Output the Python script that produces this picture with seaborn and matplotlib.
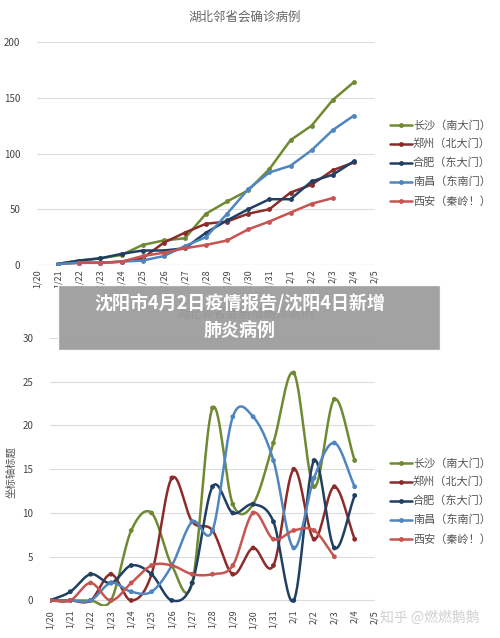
import numpy as np
import pandas as pd
import matplotlib
matplotlib.use("Agg")
import matplotlib.pyplot as plt
import seaborn as sns

sns.set_theme(style="white")
plt.rcParams['font.family'] = ['Noto Sans CJK SC', 'DejaVu Sans']

dates = ["1/20","1/21","1/22","1/23","1/24","1/25","1/26","1/27","1/28","1/29","1/30","1/31","2/1","2/2","2/3","2/4","2/5"]
cities = ["长沙（南大门）","郑州（北大门）","合肥（东大门）","南昌（东南门）","西安（秦岭！）"]
colors = ["#6f8a32","#8b2c2a","#203f63","#4f86c0","#c65552"]

# cumulative, from 1/21
cum_changsha = [1,4,6,9,18,22,24,46,57,67,86,112,125,148,164]
cum_zhengzhou = [1,2,2,3,6,20,29,37,39,46,50,65,72,85,92]
cum_hefei = [1,4,6,10,13,13,15,29,40,50,59,59,75,81,93]
cum_nanchang = [1,2,2,3,4,8,17,25,46,68,83,89,103,121,134]
cum_xian = [None,2,2,3,8,11,15,18,22,32,39,47,55,60,None]
# daily new, from 1/20
new_changsha = [0,0,0,0,8,10,4,2,22,11,11,18,26,13,23,16]
new_zhengzhou = [0,0,0,3,0,3,14,9,8,3,6,4,15,7,13,7]
new_hefei = [0,1,3,2,4,3,0,2,13,10,11,9,0,16,6,12]
new_nanchang = [0,0,0,2,1,1,4,9,8,21,21,16,6,14,18,13]
new_xian = [0,0,2,0,2,4,4,3,3,4,10,7,8,8,5,None]

cum = [cum_changsha,cum_zhengzhou,cum_hefei,cum_nanchang,cum_xian]
new = [new_changsha,new_zhengzhou,new_hefei,new_nanchang,new_xian]

W,H = 500,638
fig = plt.figure(figsize=(W/100,H/100), dpi=100)
fig.patch.set_facecolor("white")

def style(ax, ymax, step):
    ax.set_xlim(0,16)
    ax.set_ylim(0,ymax)
    ax.set_xticks(range(17))
    ax.set_xticklabels(dates, rotation=90, fontsize=6.5, color="#444")
    ax.set_yticks(np.arange(0,ymax+1,step))
    ax.tick_params(axis='y', labelsize=7, colors="#444", length=0, pad=12)
    ax.tick_params(axis='x', length=0, pad=3)
    for s in ax.spines.values(): s.set_visible(False)
    ax.grid(axis='y', color="#dcdcdc", lw=0.8)
    ax.set_axisbelow(True)
    ax.set_xlabel(""); ax.set_ylabel("")

# top chart
ax1 = fig.add_axes([37/W, (H-265)/H, 338/W, 223/H])
rows = []
for c, vals in zip(cities, cum):
    for i, v in enumerate(vals):
        if v is not None:
            rows.append({"x": i+1, "y": v, "city": c})
df1 = pd.DataFrame(rows)
sns.lineplot(data=df1, x="x", y="y", hue="city", palette=colors, marker="o",
             markersize=3.5, markeredgewidth=0, lw=1.8, ax=ax1, legend=False)
style(ax1, 200, 50)
ax1.axhline(0, color="#bbb", lw=0.8)
fig.text(245/W, 1-17/H, "湖北邻省会确诊病例", ha="center", va="center", fontsize=9, color="#666")

# bottom chart with smoothed curves
def catmull(xs, ys, n=20):
    xs = np.asarray(xs, float); ys = np.asarray(ys, float)
    px = np.concatenate([[2*xs[0]-xs[1]], xs, [2*xs[-1]-xs[-2]]])
    py = np.concatenate([[2*ys[0]-ys[1]], ys, [2*ys[-1]-ys[-2]]])
    ox, oy = [], []
    t = np.linspace(0,1,n)
    for i in range(1, len(px)-2):
        for arr, o in ((px, ox), (py, oy)):
            p0,p1,p2,p3 = arr[i-1],arr[i],arr[i+1],arr[i+2]
            o.extend(0.5*((2*p1)+(-p0+p2)*t+(2*p0-5*p1+4*p2-p3)*t**2+(-p0+3*p1-3*p2+p3)*t**3))
    return np.array(ox), np.array(oy)

ax2 = fig.add_axes([50/W, (H-605.7)/H, 325/W, 267.7/H])
rows = []
for c, col, vals in zip(cities, colors, new):
    xs = [i for i, v in enumerate(vals) if v is not None]
    ys = [v for v in vals if v is not None]
    sx, sy = catmull(xs, ys)
    ax2.plot(sx, sy, color=col, lw=1.8)
    for x, y in zip(xs, ys):
        rows.append({"x": x, "y": y, "city": c})
df2 = pd.DataFrame(rows)
sns.scatterplot(data=df2, x="x", y="y", hue="city", palette=colors, s=12,
                edgecolor="none", ax=ax2, legend=False, zorder=3)
style(ax2, 30, 5)
ax2.set_ylim(-0.6, 30)
ax2.set_ylabel("坐标轴标题", fontsize=7.5, color="#555", labelpad=4)
fig.text(245/W, 1-314/H, "湖北邻省会新增确诊病例", ha="center", va="center", fontsize=9, color="#666")

# legends
for (y0, ) in [(125,), (163+300,)]:
    for k, (c, col) in enumerate(zip(cities, colors)):
        yy = 1-(y0+k*19)/H
        fig.add_artist(plt.Line2D([390/W, 412/W], [yy, yy], color=col, lw=1.8))
        fig.add_artist(plt.Line2D([401/W], [yy], color=col, marker="o", ms=3.5, mew=0))
        fig.text(413/W, yy, c, fontsize=8, va="center", color="#555")

# banner overlay
fig.patches.append(matplotlib.patches.Rectangle((58/W, 1-350/H), 382/W, 65/H,
                   transform=fig.transFigure, facecolor="#9b9b9b", alpha=0.93, zorder=10))
fig.text(240/W, 1-303/H, "沈阳市4月2日疫情报告/沈阳4日新增", ha="center", va="center",
         fontsize=13, color="white", weight="bold", zorder=11)
fig.text(240/W, 1-330/H, "肺炎病例", ha="center", va="center",
         fontsize=13, color="white", weight="bold", zorder=11)
fig.text(430/W, 1-618/H, "知乎 @燃燃鹅鹅", ha="center", va="center", fontsize=10, color="#d0d0d0")

fig.savefig("out.png", dpi=100)
